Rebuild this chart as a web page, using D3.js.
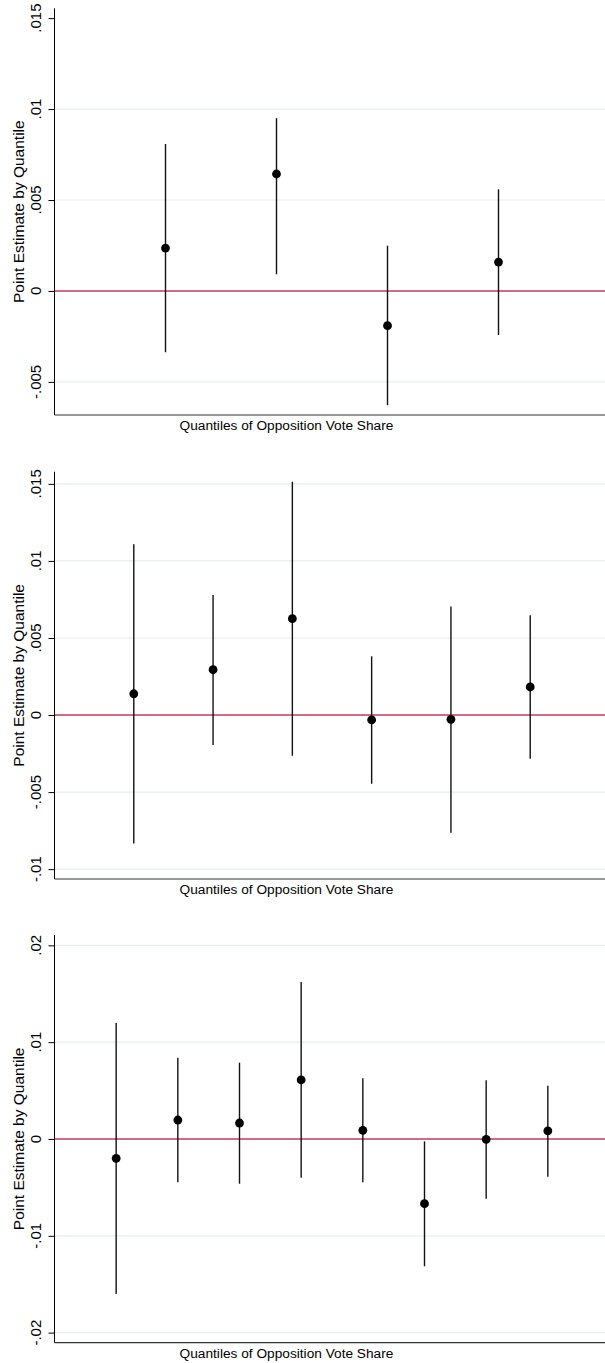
<!DOCTYPE html>
<html>
<head>
<meta charset="utf-8">
<script src="https://cdn.jsdelivr.net/npm/d3@7"></script>
<style>
  html, body { margin: 0; padding: 0; background: #fff; }
  text { font-family: "Liberation Sans", Arial, Helvetica, sans-serif; fill: #000; }
</style>
</head>
<body>
<div id="chart"></div>
<script>
// point estimates and 95% CIs
const est1 = [0.00236, 0.00643, -0.00191, 0.00159];
const lo1 = [-0.00337, 0.00092, -0.00628, -0.00242];
const hi1 = [0.00808, 0.0095, 0.00249, 0.00559];
const ticks1 = [-0.005, 0, 0.005, 0.01, 0.015];
const ext1 = [-0.00682, 0.01554];

const est2 = [0.00138, 0.00294, 0.00625, -0.00032, -0.00028, 0.00182];
const lo2 = [-0.00833, -0.00195, -0.00264, -0.00446, -0.00764, -0.00283];
const hi2 = [0.01108, 0.00779, 0.01514, 0.00381, 0.00705, 0.00647];
const ticks2 = [-0.01, -0.005, 0, 0.005, 0.01, 0.015];
const ext2 = [-0.01064, 0.01579];

const est3 = [-0.0020, 0.00196, 0.00165, 0.0061, 0.0009, -0.00668, -0.00003, 0.00083];
const lo3 = [-0.01601, -0.00448, -0.00462, -0.004, -0.00448, -0.01315, -0.00617, -0.00389];
const hi3 = [0.01198, 0.0084, 0.00788, 0.01622, 0.00627, -0.00024, 0.00606, 0.00551];
const ticks3 = [-0.02, -0.01, 0, 0.01, 0.02];
const ext3 = [-0.02104, 0.02107];

const yTitle = "Point Estimate by Quantile";
const xTitle = "Quantiles of Opposition Vote Share";

const width = 605, height = 1363;

// pixel layout of each panel (top / bottom of plot region)
const panels = [
  { est: est1, lo: lo1, hi: hi1, ticks: ticks1, ext: ext1, top: 8.3, bottom: 415, noGrid: [0.015] },
  { est: est2, lo: lo2, hi: hi2, ticks: ticks2, ext: ext2, top: 471.7, bottom: 879, noGrid: [] },
  { est: est3, lo: lo3, hi: hi3, ticks: ticks3, ext: ext3, top: 935, bottom: 1342.7, noGrid: [] },
];

const axisX = 54.5;
const fmt = d => d === 0 ? "0" : String(d).replace("0.", ".");

const svg = d3.select("#chart").append("svg")
  .attr("width", width)
  .attr("height", height);

svg.append("rect").attr("width", width).attr("height", height).attr("fill", "#fff");

panels.forEach(p => {
  const n = p.est.length;
  const data = p.est.map((e, i) => ({ q: i + 1, est: e, lo: p.lo[i], hi: p.hi[i] }));

  const x = d3.scaleLinear().domain([0, n + 1]).range([axisX, 609.5]);
  const y = d3.scaleLinear().domain(p.ext).range([p.bottom, p.top]);

  const g = svg.append("g");

  // gridlines
  g.selectAll("line.grid")
    .data(p.ticks.filter(t => t !== 0 && !p.noGrid.includes(t)))
    .enter().append("line")
    .attr("class", "grid")
    .attr("x1", axisX).attr("x2", width)
    .attr("y1", d => y(d)).attr("y2", d => y(d))
    .attr("stroke", "#e5eef0")
    .attr("stroke-width", 1.2);

  // zero reference line
  g.append("line")
    .attr("x1", axisX).attr("x2", width)
    .attr("y1", y(0)).attr("y2", y(0))
    .attr("stroke", "#c8385a")
    .attr("stroke-width", 1.5);

  // y axis
  const yAxis = d3.axisLeft(y)
    .tickValues(p.ticks)
    .tickFormat("")
    .tickSize(6)
    .tickSizeOuter(0);

  const ya = g.append("g")
    .attr("transform", `translate(${axisX},0)`)
    .call(yAxis);
  ya.select(".domain").remove();
  ya.selectAll(".tick line").attr("stroke", "#000");

  g.append("line")
    .attr("x1", axisX).attr("x2", axisX)
    .attr("y1", p.top).attr("y2", p.bottom)
    .attr("stroke", "#000").attr("stroke-width", 1);

  // rotated tick labels
  g.selectAll("text.ytick")
    .data(p.ticks)
    .enter().append("text")
    .attr("class", "ytick")
    .attr("transform", d => `translate(36,${y(d)}) rotate(-90)`)
    .attr("text-anchor", "middle")
    .attr("dy", "0.36em")
    .style("font-size", "15px")
    .text(fmt);

  // x axis line
  g.append("line")
    .attr("x1", axisX).attr("x2", width)
    .attr("y1", p.bottom).attr("y2", p.bottom)
    .attr("stroke", "#333").attr("stroke-width", 1.2);

  // error bars
  g.selectAll("line.ci")
    .data(data)
    .enter().append("line")
    .attr("class", "ci")
    .attr("x1", d => x(d.q)).attr("x2", d => x(d.q))
    .attr("y1", d => y(d.lo)).attr("y2", d => y(d.hi))
    .attr("stroke", "#111")
    .attr("stroke-width", 1.4);

  // point estimates
  g.selectAll("circle.dot")
    .data(data)
    .enter().append("circle")
    .attr("class", "dot")
    .attr("cx", d => x(d.q))
    .attr("cy", d => y(d.est))
    .attr("r", 4.4)
    .attr("fill", "#000");

  // titles
  g.append("text")
    .attr("transform", `translate(18.5,${(p.top + p.bottom) / 2}) rotate(-90)`)
    .attr("text-anchor", "middle")
    .attr("dy", "0.36em")
    .style("font-size", "15.5px")
    .text(yTitle);

  g.append("text")
    .attr("x", 286.5)
    .attr("y", p.bottom + 15)
    .attr("text-anchor", "middle")
    .style("font-size", "13.7px")
    .text(xTitle);
});
</script>
</body>
</html>
